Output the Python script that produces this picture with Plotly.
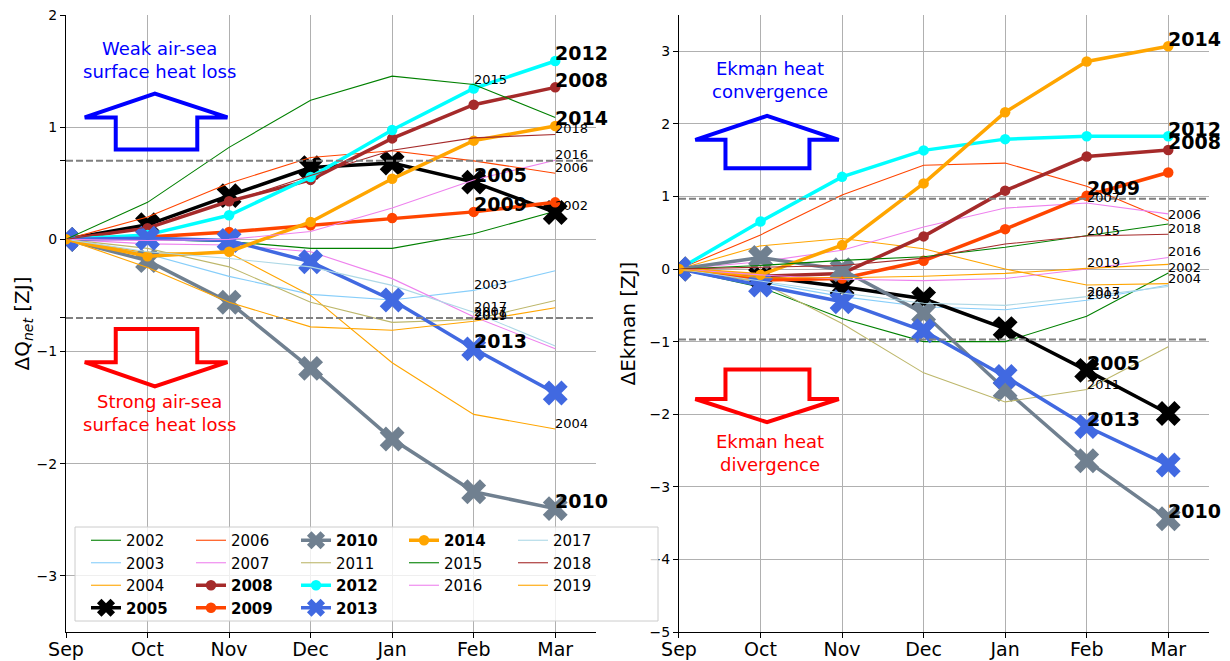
import plotly.graph_objects as go

MONTHS = ["Sep", "Oct", "Nov", "Dec", "Jan", "Feb", "Mar"]
YEARS = list(range(2002, 2020))
BOLD_YEARS = [2005, 2008, 2009, 2010, 2012, 2013, 2014]

# Delta Qnet [ZJ] (left panel)
QNET = {
    2002: [0, 0.00, -0.02, -0.08, -0.08, 0.05, 0.25],
    2003: [0, -0.13, -0.33, -0.49, -0.54, -0.455, -0.28],
    2004: [0, -0.12, -0.12, -0.50, -1.10, -1.56, -1.69],
    2005: [0, 0.13, 0.39, 0.64, 0.68, 0.51, 0.24],
    2006: [0, 0.20, 0.50, 0.73, 0.79, 0.70, 0.59],
    2007: [0, -0.04, -0.05, -0.11, -0.35, -0.69, -0.975],
    2008: [0, 0.10, 0.34, 0.53, 0.90, 1.20, 1.355],
    2009: [0, 0.02, 0.065, 0.125, 0.19, 0.245, 0.33],
    2010: [0, -0.19, -0.56, -1.15, -1.78, -2.25, -2.40],
    2011: [0, -0.08, -0.245, -0.56, -0.74, -0.715, -0.545],
    2012: [0, 0.04, 0.215, 0.556, 0.975, 1.345, 1.59],
    2013: [0, 0.01, -0.01, -0.20, -0.54, -0.976, -1.37],
    2014: [0, -0.15, -0.11, 0.155, 0.54, 0.88, 1.01],
    2015: [0, 0.33, 0.82, 1.24, 1.455, 1.38, 1.087],
    2016: [0, -0.01, 0.00, 0.07, 0.28, 0.53, 0.705],
    2017: [0, -0.11, -0.17, -0.245, -0.41, -0.65, -0.95],
    2018: [0, 0.11, 0.33, 0.57, 0.795, 0.905, 0.935],
    2019: [0, -0.25, -0.56, -0.78, -0.81, -0.73, -0.61],
}

# Delta Ekman [ZJ] (right panel)
EKMAN = {
    2002: [0, -0.25, -0.68, -1.00, -1.00, -0.65, -0.055],
    2003: [0, -0.18, -0.38, -0.52, -0.56, -0.43, -0.22],
    2004: [0, 0.32, 0.42, 0.28, 0.00, -0.22, -0.20],
    2005: [0, -0.10, -0.245, -0.41, -0.82, -1.395, -1.99],
    2006: [0, 0.47, 1.02, 1.43, 1.46, 1.14, 0.67],
    2007: [0, 0.10, 0.26, 0.58, 0.84, 0.91, 0.76],
    2008: [0, -0.10, -0.06, 0.45, 1.08, 1.55, 1.64],
    2009: [0, -0.15, -0.13, 0.115, 0.55, 1.01, 1.33],
    2010: [0, 0.16, -0.01, -0.61, -1.66, -2.64, -3.44],
    2011: [0, -0.18, -0.75, -1.43, -1.83, -1.66, -1.07],
    2012: [0, 0.655, 1.27, 1.635, 1.79, 1.83, 1.83],
    2013: [0, -0.22, -0.45, -0.85, -1.48, -2.17, -2.70],
    2014: [0, -0.08, 0.33, 1.18, 2.16, 2.86, 3.07],
    2015: [0, 0.05, 0.12, 0.17, 0.30, 0.46, 0.62],
    2016: [0, -0.08, -0.14, -0.16, -0.13, 0.00, 0.16],
    2017: [0, -0.16, -0.33, -0.47, -0.50, -0.38, -0.24],
    2018: [0, 0.02, 0.05, 0.15, 0.345, 0.456, 0.48],
    2019: [0, -0.12, -0.12, -0.10, -0.06, 0.01, 0.065],
}

COLORS = {
    2002: "green", 2003: "lightskyblue", 2004: "orange", 2005: "black",
    2006: "orangered", 2007: "violet", 2008: "brown", 2009: "orangered",
    2010: "slategray", 2011: "darkkhaki", 2012: "cyan", 2013: "royalblue",
    2014: "orange", 2015: "green", 2016: "violet", 2017: "lightblue",
    2018: "brown", 2019: "orange",
}
X_MARKER_YEARS = [2005, 2010, 2013]

# year labels: (year, month index where label is attached)
QNET_LABELS = [(2012, 6), (2008, 6), (2014, 6), (2005, 5), (2009, 5), (2013, 5), (2010, 6),
               (2015, 5), (2018, 6), (2016, 6), (2006, 6), (2002, 6), (2003, 5),
               (2017, 5), (2007, 5), (2019, 5), (2011, 5), (2004, 6)]
EKMAN_LABELS = [(2014, 6), (2012, 6), (2008, 6), (2009, 5), (2005, 5), (2013, 5), (2010, 6),
                (2007, 5), (2006, 6), (2015, 5), (2018, 6), (2016, 6), (2019, 5),
                (2002, 6), (2004, 6), (2017, 5), (2003, 5), (2011, 5)]

QNET_THRESHOLD = 0.7
EKMAN_THRESHOLD = 0.97

LEGEND_COLUMNS = [[2002, 2003, 2004, 2005], [2006, 2007, 2008, 2009],
                  [2010, 2011, 2012, 2013], [2014, 2015, 2016], [2017, 2018, 2019]]

FONT = "DejaVu Sans"
# the page body has an 8px margin, so the figure is a bit smaller than the window
W, H = 1222, 653
ML, MR, MT, MB = 58, 21, 7, 29
PW = W - ML - MR
PH = H - MT - MB
PAGE_OFF = 8

fig = go.Figure()

legend_of = {}
for ci, col in enumerate(LEGEND_COLUMNS):
    for yr in col:
        legend_of[yr] = "legend" if ci == 0 else f"legend{ci + 1}"

x_idx = list(range(len(MONTHS)))
for panel, data in ((1, QNET), (2, EKMAN)):
    for yr in YEARS:
        bold = yr in BOLD_YEARS
        name = f"<b>{yr}</b>" if bold else str(yr)
        kw = dict(
            x=x_idx, y=data[yr], name=name,
            xaxis="x" if panel == 1 else "x2",
            yaxis="y" if panel == 1 else "y2",
            legend=legend_of[yr],
            showlegend=(panel == 1),
            hoverinfo="skip",
        )
        if bold:
            if yr in X_MARKER_YEARS:
                marker = dict(symbol="x", size=22, color=COLORS[yr], line=dict(width=0))
            else:
                marker = dict(symbol="circle", size=10.5, color=COLORS[yr], line=dict(width=0))
            fig.add_trace(go.Scatter(mode="lines+markers",
                                     line=dict(color=COLORS[yr], width=3.5),
                                     marker=marker, **kw))
        else:
            fig.add_trace(go.Scatter(mode="lines",
                                     line=dict(color=COLORS[yr], width=1.1), **kw))

# year labels
for xr, yr_ref, data, labels in (("x", "y", QNET, QNET_LABELS), ("x2", "y2", EKMAN, EKMAN_LABELS)):
    for yr, mi in labels:
        bold = yr in BOLD_YEARS
        size = 19 if bold else 13
        fig.add_annotation(
            x=mi, y=data[yr][mi], xref=xr, yref=yr_ref,
            text=f"<b>{yr}</b>" if bold else str(yr),
            showarrow=False, xanchor="left", yanchor="bottom",
            xshift=-2, yshift=-(0.23 * size + 1),
            font=dict(family=FONT, size=size, color="black"),
        )

# threshold dashed lines
for yref, xref, thr in (("y", "x", QNET_THRESHOLD), ("y2", "x2", EKMAN_THRESHOLD)):
    for s in (1, -1):
        fig.add_shape(type="line", xref=f"{xref} domain", yref=yref, x0=0, x1=1,
                      y0=s * thr, y1=s * thr,
                      line=dict(color="gray", width=2, dash="7px,3px"), layer="above")

# block arrows (hollow)
def arrow_path(xs_l, xs_r, xw_l, xw_r, xtip, ybase, ywing, ytip):
    return (f"M {xs_l},{ybase} L {xs_l},{ywing} L {xw_l},{ywing} L {xtip},{ytip} "
            f"L {xw_r},{ywing} L {xs_r},{ywing} L {xs_r},{ybase} Z")

ARROWS = [
    ("x", "y", "blue", (0.61, 1.61, 0.23, 1.98, 1.09, 0.80, 1.087, 1.30)),
    ("x", "y", "red", (0.61, 1.61, 0.23, 1.98, 1.09, -0.80, -1.095, -1.31)),
    ("x2", "y2", "blue", (0.57, 1.60, 0.20, 1.96, 1.08, 1.39, 1.78, 2.11)),
    ("x2", "y2", "red", (0.57, 1.60, 0.20, 1.96, 1.08, -1.385, -1.79, -2.11)),
]
for xr, yr_ref, col, p in ARROWS:
    fig.add_shape(type="path", xref=xr, yref=yr_ref, path=arrow_path(*p),
                  line=dict(color=col, width=4), fillcolor="rgba(0,0,0,0)", layer="above")

TEXTS = [
    ("x", "y", 1.15, 1.60, "Weak air-sea<br>surface heat loss", "blue"),
    ("x", "y", 1.15, -1.55, "Strong air-sea<br>surface heat loss", "red"),
    ("x2", "y2", 1.12, 2.60, "Ekman heat<br>convergence", "blue"),
    ("x2", "y2", 1.12, -2.54, "Ekman heat<br>divergence", "red"),
]
for xr, yr_ref, xv, yv, txt, col in TEXTS:
    fig.add_annotation(x=xv, y=yv, xref=xr, yref=yr_ref, text=txt, showarrow=False,
                       xanchor="center", yanchor="middle", align="center",
                       font=dict(family=FONT, size=18, color=col))

# legend frame (positions given in window pixels)
def px_x(p):
    return (p - PAGE_OFF - ML) / PW

def px_y(p):
    return (H - MB - (p - PAGE_OFF)) / PH

fig.add_shape(type="rect", xref="paper", yref="paper",
              x0=px_x(75), x1=px_x(658), y0=px_y(621), y1=px_y(527),
              line=dict(color="#cccccc", width=1), fillcolor="rgba(255,255,255,0.8)",
              layer="above")

LEGEND_X_PX = [86, 191, 296, 404, 513]
for ci, xp in enumerate(LEGEND_X_PX):
    key = "legend" if ci == 0 else f"legend{ci + 1}"
    fig.update_layout(**{key: dict(
        x=px_x(xp), y=px_y(524), xanchor="left", yanchor="top",
        bgcolor="rgba(0,0,0,0)", borderwidth=0, tracegroupgap=0,
        font=dict(family=FONT, size=15, color="black"),
        traceorder="normal", itemclick=False, itemdoubleclick=False,
    )})

axis_common = dict(
    showline=True, linecolor="black", linewidth=1.2,
    ticks="outside", ticklen=5, tickwidth=1.2, tickcolor="black",
    showgrid=True, gridcolor="#b0b0b0", gridwidth=1, zeroline=False,
    automargin=False, ticklabeloverflow="allow",
)

fig.update_layout(
    width=W, height=H,
    margin=dict(l=ML, r=MR, t=MT, b=MB, autoexpand=False),
    plot_bgcolor="white", paper_bgcolor="white",
    font=dict(family=FONT, color="black"),
    xaxis=dict(domain=[0, 0.4637], range=[0, 6.5], tickvals=x_idx, ticktext=MONTHS,
               tickfont=dict(size=19), ticklabelstandoff=-5, anchor="y", **axis_common),
    xaxis2=dict(domain=[0.5363, 1], range=[0, 6.5], tickvals=x_idx, ticktext=MONTHS,
                tickfont=dict(size=19), ticklabelstandoff=-5, anchor="y2", **axis_common),
    yaxis=dict(range=[-3.5, 2], tickvals=[-3, -2, -1, 0, 1, 2], tickfont=dict(size=14),
               title=dict(text="ΔQ<sub><i>net</i></sub> [ZJ]", font=dict(size=20), standoff=0),
               minor=dict(tickvals=[-QNET_THRESHOLD, QNET_THRESHOLD], ticks="outside",
                          ticklen=5, tickcolor="black", showgrid=False),
               anchor="x", **axis_common),
    yaxis2=dict(range=[-5, 3.5], tickvals=[-5, -4, -3, -2, -1, 0, 1, 2, 3], tickfont=dict(size=14),
                title=dict(text="ΔEkman [ZJ]", font=dict(size=20), standoff=8),
                anchor="x2", **axis_common),
)

fig.write_html("out.html")
